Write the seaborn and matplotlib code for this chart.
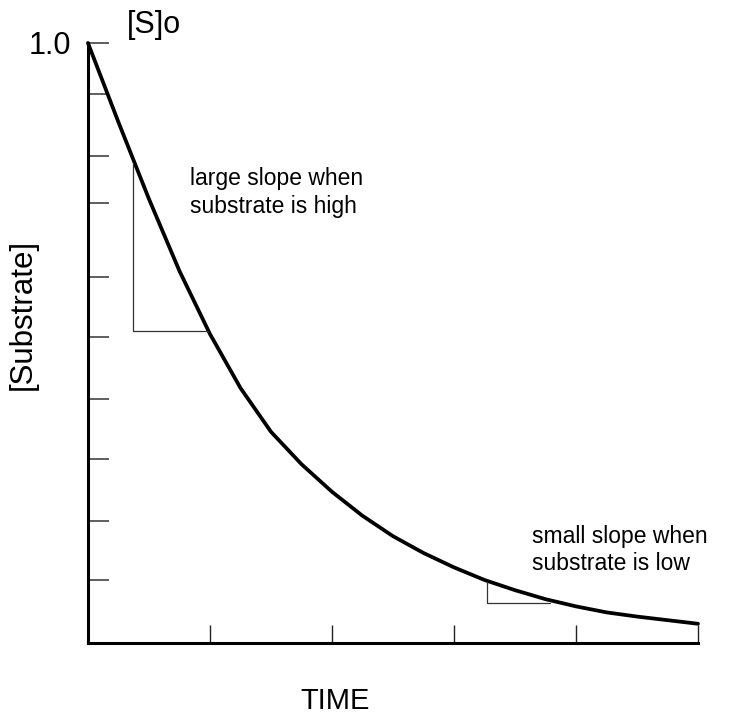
import numpy as np
import pandas as pd
import matplotlib
matplotlib.use("Agg")
import matplotlib.pyplot as plt
import seaborn as sns

# values
time = [0.0, 0.25, 0.5, 0.75, 1.0, 1.25, 1.5, 1.75, 2.0, 2.25, 2.5,
        2.75, 3.0, 3.25, 3.5, 3.75, 4.0, 4.25, 4.5, 4.75, 5.0]
substrate = [1.0, 0.868, 0.74, 0.62, 0.515, 0.425, 0.352, 0.298, 0.252, 0.212, 0.178,
             0.150, 0.126, 0.105, 0.088, 0.073, 0.061, 0.051, 0.044, 0.038, 0.032]
y_ticks = [0.105, 0.203, 0.307, 0.407, 0.51, 0.61, 0.733, 0.812, 0.915, 1.0]
x_ticks = [0, 1, 2, 3, 4, 5]

# slope triangles: (x of vertical leg, top y, bottom y, x where horizontal leg meets curve)
tri_high = (0.369, 0.80, 0.52, 0.984)
tri_low = (3.27, 0.102, 0.067, 3.787)

df = pd.DataFrame({"time": time, "substrate": substrate})

sns.set_theme(style="white")
plt.rcParams["font.family"] = ["Liberation Sans", "DejaVu Sans"]
plt.rcParams["text.color"] = "black"
plt.rcParams["axes.labelcolor"] = "black"
plt.rcParams["ytick.labelcolor"] = "black"

fig = plt.figure(figsize=(7.39, 7.16), dpi=100)
ax = fig.add_axes([0.119, 0.102, 0.8255, 0.838])

sns.lineplot(data=df, x="time", y="substrate", ax=ax, color="black",
             linewidth=2.7, clip_on=False, solid_joinstyle="round")

for xv, top, bot, xr in [tri_high, tri_low]:
    ax.plot([xv, xv, xr], [top, bot, bot], color="#333333", linewidth=0.9, clip_on=False)

ax.set_xlim(0, 5)
ax.set_ylim(0, 1.0)
ax.set_xticks(x_ticks)
ax.set_xticklabels([])
ax.set_yticks(y_ticks)
ax.set_yticklabels([""] * (len(y_ticks) - 1) + ["1.0"])
ax.tick_params(axis="x", direction="in", length=13, width=1.0, color="#222222", bottom=True)
ax.tick_params(axis="y", direction="in", length=15, width=1.1, color="#333333",
               left=True, labelsize=22, pad=12, labelcolor="black")

for side in ["top", "right"]:
    ax.spines[side].set_visible(False)
for side in ["left", "bottom"]:
    ax.spines[side].set_color("black")
    ax.spines[side].set_linewidth(2.2)

ax.set_xlabel("TIME", fontsize=21, color="black")
ax.xaxis.set_label_coords(0.405, -0.073)
ax.set_ylabel("[Substrate]", fontsize=22.5, color="black")
ax.yaxis.set_label_coords(-0.083, 0.547)

ax.text(0.32, 1.03, "[S]o", fontsize=22, va="center", ha="left", clip_on=False, color="black")
ax.text(0.836, 0.793, "large slope when\nsubstrate is high", fontsize=16.5,
        va="top", ha="left", linespacing=1.25, color="black")
ax.text(3.64, 0.197, "small slope when\nsubstrate is low", fontsize=16.5,
        va="top", ha="left", linespacing=1.25, clip_on=False, color="black")

fig.savefig("out.png", dpi=100)
